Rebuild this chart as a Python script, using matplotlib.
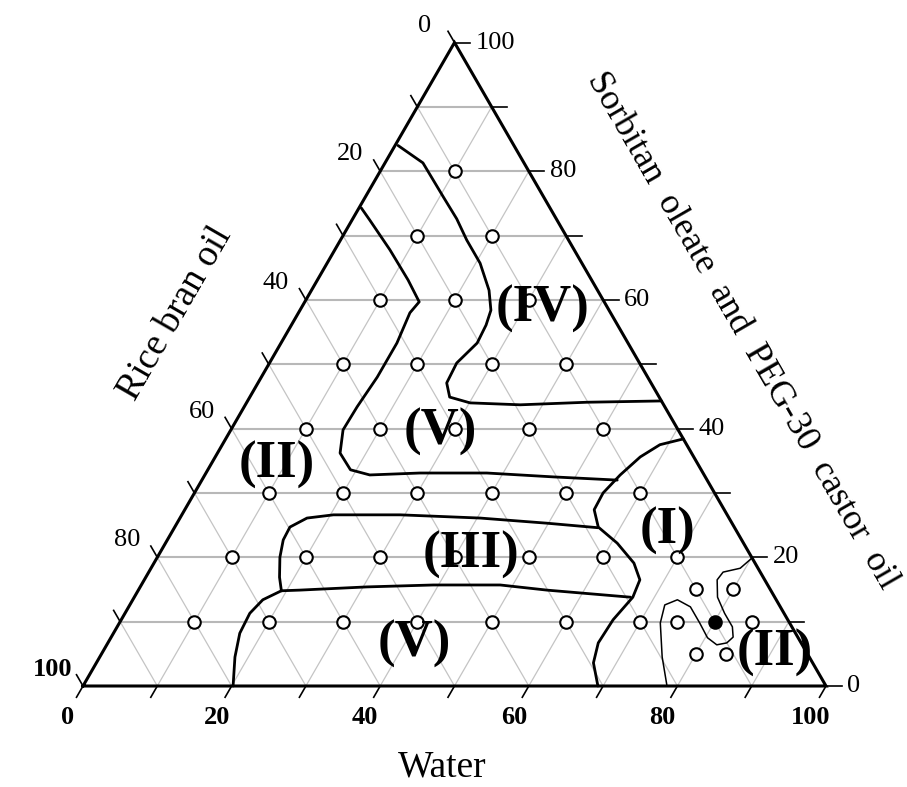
import numpy as np
import matplotlib.pyplot as plt

plt.rcParams['font.family'] = ['Liberation Serif', 'DejaVu Serif']

# compositions in % : W = water, S = surfactant (Sorbitan oleate + PEG-30 castor oil)
# oil = 100 - W - S

# phase boundaries (W, S)
iv_w = [0.4, 5.1, 10.5, 14.0, 17.0, 20.6, 23.9, 25.7, 26.2, 26.4, 25.2, 25.4, 26.9, 30.1, 37.0, 45.8, 55.7]
iv_s = [84.0, 81.3, 76.0, 72.6, 69.3, 65.7, 61.5, 58.4, 56.1, 53.3, 50.2, 47.1, 44.9, 44.0, 43.7, 44.1, 44.3]

v_top_w = [0.3, 2.4, 7.4, 12.2, 15.4, 15.0, 15.6, 15.6, 15.2, 15.1, 16.5, 19.2, 22.2, 28.8, 37.8, 47.0, 55.9]
v_top_s = [74.3, 72.4, 67.8, 63.1, 59.7, 58.0, 53.3, 48.0, 43.4, 39.8, 36.2, 33.6, 32.8, 33.1, 33.1, 32.5, 32.0]

i_w = [61.6, 58.9, 57.2, 55.9, 55.0, 55.1, 57.0, 60.8, 64.6, 66.7, 67.1, 66.2, 66.0, 66.9, 69.3]
i_s = [38.4, 37.5, 35.6, 32.8, 30.0, 27.4, 24.7, 22.2, 19.1, 16.5, 13.8, 10.3, 6.7, 3.6, 0.0]

iii_top_w = [57.0, 49.8, 40.4, 29.4, 20.4, 17.1, 15.5, 15.6, 16.5, 18.0, 19.3]
iii_top_s = [24.6, 25.3, 26.1, 26.6, 26.6, 26.1, 24.7, 22.7, 20.0, 16.9, 14.8]

iii_bot_w = [19.3, 21.7, 30.5, 39.3, 48.3, 55.0, 66.8]
iii_bot_s = [14.8, 14.9, 15.4, 15.7, 15.7, 14.9, 13.8]

v_low_w = [19.3, 17.5, 16.8, 17.0, 18.2, 20.2]
v_low_s = [14.8, 13.4, 11.3, 8.2, 4.5, 0.0]

thin_w = [80.1, 79.3, 77.3, 77.1, 78.5, 80.7, 82.8, 83.7, 83.3, 82.1, 80.3, 78.1, 75.6, 73.3, 72.0, 72.8, 75.7, 78.6]
thin_s = [19.9, 18.3, 17.7, 16.5, 13.8, 11.3, 9.2, 7.6, 6.7, 6.4, 7.5, 9.8, 12.3, 13.4, 12.6, 9.8, 4.5, 0.0]

# tested compositions (open circles) and the selected one (filled)
pt_w = [10, 10, 20, 10, 20, 30, 10, 20, 30, 40, 10, 20, 30, 40, 50,
        10, 20, 30, 40, 50, 60, 10, 20, 30, 40, 50, 60, 70, 75, 80,
        10, 20, 30, 40, 50, 60, 70, 75, 85, 80, 84]
pt_s = [80, 70, 70, 60, 60, 60, 50, 50, 50, 50, 40, 40, 40, 40, 40,
        30, 30, 30, 30, 30, 30, 20, 20, 20, 20, 20, 20, 20, 15, 15,
        10, 10, 10, 10, 10, 10, 10, 10, 10, 5, 5]
sel_w = [80]
sel_s = [10]

phase_names = ['(IV)', '(V)', '(II)', '(III)', '(I)', '(V)', '(II)']
phase_w = [32.5, 28.3, 8.9, 42.0, 66.6, 41.4, 90.6]
phase_s = [58.6, 39.5, 34.3, 20.4, 24.1, 6.5, 5.1]

ticks = np.arange(0, 101, 10)
labels = np.arange(0, 101, 20)

H = np.sqrt(3) / 2


def tern(w, s):
    w = np.asarray(w, float) / 100
    s = np.asarray(s, float) / 100
    return w + s / 2, s * H


P = 1 / 743  # one pixel in data units
fig = plt.figure(figsize=(9.07, 7.87), dpi=100)
ax = fig.add_axes([0, 0, 1, 1])
ax.set_xlim(-83 * P, 824 * P)
ax.set_ylim(-101 * P, 686 * P)
ax.axis('off')

# grid
for v in ticks[1:-1]:
    x, y = tern([0, 100 - v], [v, v])
    ax.plot(x, y, color='#b8b8b8', lw=1.5, zorder=1)
    x, y = tern([v, v], [0, 100 - v])
    ax.plot(x, y, color='#c4c4c4', lw=0.9, zorder=1)
    x, y = tern([100 - v, 0], [0, 100 - v])
    ax.plot(x, y, color='#c4c4c4', lw=0.9, zorder=1)

# triangle
x, y = tern([0, 100, 0, 0], [0, 0, 100, 0])
ax.plot(x, y, color='black', lw=2.2, zorder=5, solid_joinstyle='miter')

# ticks and tick labels
L = 13 * P
for v in ticks:
    x, y = tern(v, 0)
    ax.plot([x, x - L * 0.5], [y, y - L * H], color='black', lw=1.2, zorder=5)
    x, y = tern(100 - v, v)
    ax.plot([x, x + 1.2 * L], [y, y], color='black', lw=1.2, zorder=5)
    x, y = tern(0, 100 - v)
    ax.plot([x, x - L * 0.5], [y, y + L * H], color='black', lw=1.2, zorder=5)

for v in labels:
    x, y = tern(v, 0)
    ax.text(x - 15 * P, y - 31 * P, str(v), ha='center', va='center',
            fontsize=19, fontweight='bold')
    x, y = tern(100 - v, v)
    ax.text(x + 21 * P, y, str(v), ha='left', va='center', fontsize=19)
    x, y = tern(0, 100 - v)
    ax.text(x - 30 * P, y + 17 * P, str(v), ha='center', va='center', fontsize=19,
            fontweight='bold' if v == 100 else 'normal')

# boundaries
for cw, cs in [(iv_w, iv_s), (v_top_w, v_top_s), (i_w, i_s), (iii_top_w, iii_top_s),
               (iii_bot_w, iii_bot_s), (v_low_w, v_low_s)]:
    x, y = tern(cw, cs)
    ax.plot(x, y, color='black', lw=2.0, zorder=3, solid_joinstyle='round',
            solid_capstyle='round')
x, y = tern(thin_w, thin_s)
ax.plot(x, y, color='black', lw=1.1, zorder=3, solid_joinstyle='round')

# points
x, y = tern(pt_w, pt_s)
ax.plot(x, y, 'o', ms=9, mfc='white', mec='black', mew=1.5, zorder=4)
x, y = tern(sel_w, sel_s)
ax.plot(x, y, 'o', ms=9, mfc='black', mec='black', mew=1.5, zorder=4)

# phase labels
for name, w, s in zip(phase_names, phase_w, phase_s):
    x, y = tern(w, s)
    ax.text(x, y, name, ha='center', va='center', fontsize=38, fontweight='bold',
            zorder=6)

# axis titles
ax.text(359 * P, -81 * P, 'Water', ha='center', va='center', fontsize=27)
ax.text(92 * P, 372 * P, 'Rice bran oil', ha='center', va='center', fontsize=27,
        rotation=60, rotation_mode='anchor')
ax.text(659 * P, 355 * P, 'Sorbitan  oleate  and  PEG-30  castor  oil', ha='center',
        va='center', fontsize=26, rotation=-60, rotation_mode='anchor')

fig.savefig('out.png', dpi=100, facecolor='white')
